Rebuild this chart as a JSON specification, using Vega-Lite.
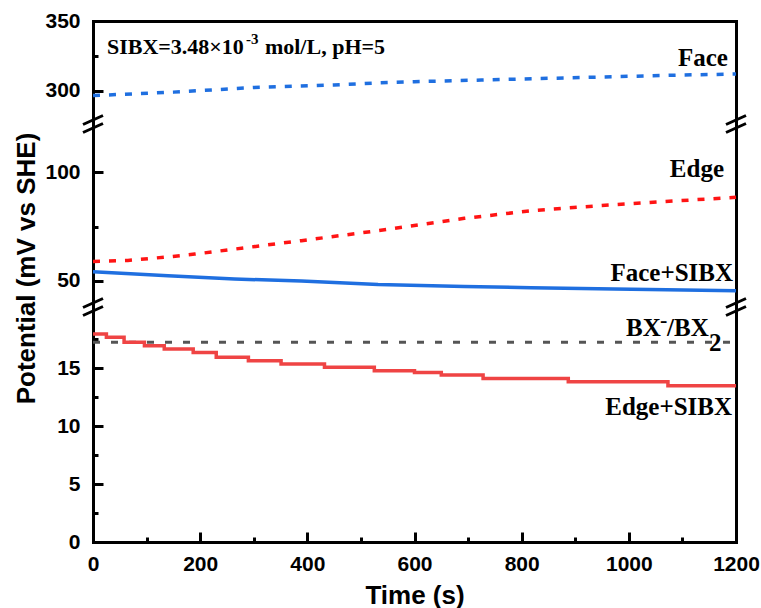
{
  "$schema": "https://vega.github.io/schema/vega-lite/v6.json",
  "background": "white",
  "padding": {"left": 13, "top": 10, "right": 2, "bottom": 2},
  "spacing": 0,
  "bounds": "flush",
  "datasets": {
    "face": [
      {"t": 0, "v": 296.4}, {"t": 150, "v": 298.9}, {"t": 300, "v": 302.2}, {"t": 450, "v": 304.1},
      {"t": 530, "v": 305.5}, {"t": 600, "v": 306.4}, {"t": 725, "v": 307.6}, {"t": 850, "v": 308.8},
      {"t": 975, "v": 310.0}, {"t": 1100, "v": 311.2}, {"t": 1200, "v": 311.9}
    ],
    "edge": [
      {"t": 0, "v": 58.9}, {"t": 65, "v": 59.4}, {"t": 140, "v": 61.0}, {"t": 190, "v": 62.3},
      {"t": 264, "v": 64.6}, {"t": 389, "v": 68.5}, {"t": 532, "v": 73.1}, {"t": 693, "v": 78.8},
      {"t": 818, "v": 82.3}, {"t": 943, "v": 84.6}, {"t": 1066, "v": 86.5}, {"t": 1200, "v": 88.5}
    ],
    "faceSibx": [
      {"t": 0, "v": 54.2}, {"t": 140, "v": 52.3}, {"t": 264, "v": 50.8}, {"t": 389, "v": 49.9},
      {"t": 532, "v": 48.3}, {"t": 693, "v": 47.4}, {"t": 818, "v": 46.8}, {"t": 973, "v": 46.2},
      {"t": 1200, "v": 45.4}
    ],
    "edgeSibx": [
      {"t": 0, "v": 17.97}, {"t": 25, "v": 17.68}, {"t": 58, "v": 17.25}, {"t": 96, "v": 16.96},
      {"t": 133, "v": 16.67}, {"t": 187, "v": 16.38}, {"t": 230, "v": 15.95}, {"t": 290, "v": 15.66},
      {"t": 351, "v": 15.37}, {"t": 432, "v": 15.09}, {"t": 525, "v": 14.79}, {"t": 600, "v": 14.65},
      {"t": 650, "v": 14.42}, {"t": 728, "v": 14.13}, {"t": 887, "v": 13.84}, {"t": 1073, "v": 13.49},
      {"t": 1200, "v": 13.49}
    ],
    "bx": [{"t": 0, "v": 17.25}, {"t": 1200, "v": 17.25}],
    "one": [{}]
  },
  "config": {
    "view": {"stroke": null},
    "axis": {
      "grid": false, "domainColor": "black", "domainWidth": 3, "domainCap": "square",
      "tickColor": "black", "tickWidth": 3,
      "labelFont": "Liberation Sans", "labelFontWeight": "bold", "labelFontSize": 21, "labelColor": "black",
      "titleFont": "Liberation Sans", "titleFontWeight": "bold", "titleFontSize": 26, "titleColor": "black",
      "labelFlush": false, "format": "d"
    },
    "text": {"font": "Liberation Serif", "fontWeight": "bold", "fontSize": 24, "color": "black"}
  },
  "vconcat": [
    {
      "width": 643, "height": 103,
      "resolve": {"axis": {"x": "independent", "y": "independent"}},
      "layer": [
        {
          "data": {"name": "face"},
          "mark": {"type": "line", "color": "#1f6fe0", "strokeWidth": 3.5, "strokeDash": [7, 9]},
          "encoding": {
            "x": {"field": "t", "type": "quantitative", "scale": {"domain": [0, 1200], "nice": false},
                  "axis": {"orient": "top", "ticks": false, "labels": false, "title": null}},
            "y": {"field": "v", "type": "quantitative", "scale": {"domain": [276, 350], "nice": false, "zero": false},
                  "axis": {"orient": "left", "values": [300, 350], "tickSize": -10, "labelPadding": 23, "title": null}}
          }
        },
        {
          "data": {"name": "face"},
          "mark": {"type": "line", "opacity": 0},
          "encoding": {
            "x": {"field": "t", "type": "quantitative", "axis": null},
            "y": {"field": "v", "type": "quantitative",
                  "axis": {"orient": "left", "values": [325], "tickSize": -5, "labels": false, "domain": false, "title": null}}
          }
        },
        {
          "data": {"name": "face"},
          "mark": {"type": "line", "opacity": 0},
          "encoding": {
            "x": {"field": "t", "type": "quantitative", "axis": null},
            "y": {"field": "v", "type": "quantitative",
                  "axis": {"orient": "right", "ticks": false, "labels": false, "title": null}}
          }
        },
        {
          "data": {"name": "one"},
          "mark": {"type": "point", "shape": "M-1,0.05L1,-0.85M-1,0.85L1,-0.05", "filled": false, "stroke": "black", "strokeWidth": 3, "size": 400, "opacity": 1},
          "encoding": {"x": {"datum": 0, "type": "quantitative", "axis": null}, "y": {"datum": 276, "type": "quantitative", "axis": null}}
        },
        {
          "data": {"name": "one"},
          "mark": {"type": "point", "shape": "M-1,0.05L1,-0.85M-1,0.85L1,-0.05", "filled": false, "stroke": "black", "strokeWidth": 3, "size": 400, "opacity": 1},
          "encoding": {"x": {"datum": 1200, "type": "quantitative", "axis": null}, "y": {"datum": 276, "type": "quantitative", "axis": null}}
        },
        {
          "data": {"name": "one"},
          "mark": {"type": "text", "text": "Face", "align": "right", "baseline": "alphabetic", "fontSize": 25},
          "encoding": {"x": {"datum": 1185, "type": "quantitative", "axis": null}, "y": {"datum": 317.9, "type": "quantitative", "axis": null}}
        },
        {
          "data": {"name": "one"},
          "mark": {"type": "text", "text": "SIBX=3.48×10", "align": "left", "baseline": "alphabetic", "fontSize": 22},
          "encoding": {"x": {"datum": 26, "type": "quantitative", "axis": null}, "y": {"datum": 326.2, "type": "quantitative", "axis": null}}
        },
        {
          "data": {"name": "one"},
          "mark": {"type": "text", "text": "-3", "align": "left", "baseline": "alphabetic", "fontSize": 15, "dx": 139, "dy": -10},
          "encoding": {"x": {"datum": 26, "type": "quantitative", "axis": null}, "y": {"datum": 326.2, "type": "quantitative", "axis": null}}
        },
        {
          "data": {"name": "one"},
          "mark": {"type": "text", "text": "mol/L, pH=5", "align": "left", "baseline": "alphabetic", "fontSize": 22, "dx": 158},
          "encoding": {"x": {"datum": 26, "type": "quantitative", "axis": null}, "y": {"datum": 326.2, "type": "quantitative", "axis": null}}
        }
      ]
    },
    {
      "width": 643, "height": 183,
      "resolve": {"axis": {"x": "independent", "y": "independent"}},
      "layer": [
        {
          "data": {"name": "edge"},
          "mark": {"type": "line", "color": "#ff1414", "strokeWidth": 3.5, "strokeDash": [7, 9]},
          "encoding": {
            "x": {"field": "t", "type": "quantitative", "scale": {"domain": [0, 1200], "nice": false}, "axis": null},
            "y": {"field": "v", "type": "quantitative", "scale": {"domain": [37.9, 122.3], "nice": false, "zero": false},
                  "axis": {"orient": "left", "values": [50, 100], "tickSize": -10, "labelPadding": 23,
                           "title": "Potential (mV vs SHE)", "titleX": -58.7, "titleY": 144, "titleAngle": 270,
                           "titleBaseline": "alphabetic", "titleAlign": "center"}}
          }
        },
        {
          "data": {"name": "faceSibx"},
          "mark": {"type": "line", "color": "#1f6fe0", "strokeWidth": 3.5},
          "encoding": {
            "x": {"field": "t", "type": "quantitative", "axis": null},
            "y": {"field": "v", "type": "quantitative",
                  "axis": {"orient": "left", "values": [75], "tickSize": -5, "labels": false, "domain": false, "title": null}}
          }
        },
        {
          "data": {"name": "faceSibx"},
          "mark": {"type": "line", "opacity": 0},
          "encoding": {
            "x": {"field": "t", "type": "quantitative", "axis": null},
            "y": {"field": "v", "type": "quantitative",
                  "axis": {"orient": "right", "ticks": false, "labels": false, "title": null}}
          }
        },
        {
          "data": {"name": "one"},
          "mark": {"type": "point", "shape": "M-1,0.05L1,-0.85M-1,0.85L1,-0.05", "filled": false, "stroke": "black", "strokeWidth": 3, "size": 400, "opacity": 1},
          "encoding": {"x": {"datum": 0, "type": "quantitative", "axis": null}, "y": {"datum": 37.9, "type": "quantitative", "axis": null}}
        },
        {
          "data": {"name": "one"},
          "mark": {"type": "point", "shape": "M-1,0.05L1,-0.85M-1,0.85L1,-0.05", "filled": false, "stroke": "black", "strokeWidth": 3, "size": 400, "opacity": 1},
          "encoding": {"x": {"datum": 1200, "type": "quantitative", "axis": null}, "y": {"datum": 37.9, "type": "quantitative", "axis": null}}
        },
        {
          "data": {"name": "one"},
          "mark": {"type": "text", "text": "Edge", "align": "right", "baseline": "alphabetic", "fontSize": 25},
          "encoding": {"x": {"datum": 1177.6, "type": "quantitative", "axis": null}, "y": {"datum": 97.7, "type": "quantitative", "axis": null}}
        },
        {
          "data": {"name": "one"},
          "mark": {"type": "text", "text": "Face+SIBX", "align": "right", "baseline": "alphabetic", "fontSize": 25},
          "encoding": {"x": {"datum": 1194.5, "type": "quantitative", "axis": null}, "y": {"datum": 50.0, "type": "quantitative", "axis": null}}
        }
      ]
    },
    {
      "width": 643, "height": 235,
      "resolve": {"axis": {"x": "independent", "y": "independent"}},
      "layer": [
        {
          "data": {"name": "bx"},
          "mark": {"type": "line", "color": "#555555", "strokeWidth": 3, "strokeDash": [7, 11]},
          "encoding": {
            "x": {"field": "t", "type": "quantitative", "scale": {"domain": [0, 1200], "nice": false},
                  "axis": {"orient": "bottom", "values": [100, 300, 500, 700, 900, 1100], "tickSize": -5, "labels": false, "domain": false, "title": null}},
            "y": {"field": "v", "type": "quantitative", "scale": {"domain": [0, 20.3], "nice": false, "zero": false},
                  "axis": {"orient": "left", "values": [2.5, 7.5, 12.5, 17.5], "tickSize": -5, "labels": false, "domain": false, "title": null}}
          }
        },
        {
          "data": {"name": "edgeSibx"},
          "mark": {"type": "line", "color": "#ef4444", "strokeWidth": 3.5, "interpolate": "step-after"},
          "encoding": {
            "x": {"field": "t", "type": "quantitative",
                  "axis": {"orient": "bottom", "values": [0, 200, 400, 600, 800, 1000, 1200], "tickSize": -10, "labelPadding": 21,
                           "title": "Time (s)", "titleY": 61, "titleBaseline": "alphabetic"}},
            "y": {"field": "v", "type": "quantitative",
                  "axis": {"orient": "left", "values": [0, 5, 10, 15], "tickSize": -10, "labelPadding": 23, "title": null}}
          }
        },
        {
          "data": {"name": "bx"},
          "mark": {"type": "line", "opacity": 0},
          "encoding": {
            "x": {"field": "t", "type": "quantitative", "axis": null},
            "y": {"field": "v", "type": "quantitative",
                  "axis": {"orient": "right", "ticks": false, "labels": false, "title": null}}
          }
        },
        {
          "data": {"name": "one"},
          "mark": {"type": "text", "text": "Edge+SIBX", "align": "right", "baseline": "alphabetic", "fontSize": 25},
          "encoding": {"x": {"datum": 1192.6, "type": "quantitative", "axis": null}, "y": {"datum": 10.96, "type": "quantitative", "axis": null}}
        },
        {
          "data": {"name": "one"},
          "mark": {"type": "text", "text": "BX", "align": "left", "baseline": "alphabetic", "fontSize": 25},
          "encoding": {"x": {"datum": 994.8, "type": "quantitative", "axis": null}, "y": {"datum": 17.82, "type": "quantitative", "axis": null}}
        },
        {
          "data": {"name": "one"},
          "mark": {"type": "text", "text": "-", "align": "left", "baseline": "alphabetic", "fontSize": 22, "dx": 34, "dy": -9},
          "encoding": {"x": {"datum": 994.8, "type": "quantitative", "axis": null}, "y": {"datum": 17.82, "type": "quantitative", "axis": null}}
        },
        {
          "data": {"name": "one"},
          "mark": {"type": "text", "text": "/BX", "align": "left", "baseline": "alphabetic", "fontSize": 25, "dx": 41},
          "encoding": {"x": {"datum": 994.8, "type": "quantitative", "axis": null}, "y": {"datum": 17.82, "type": "quantitative", "axis": null}}
        },
        {
          "data": {"name": "one"},
          "mark": {"type": "text", "text": "2", "align": "left", "baseline": "alphabetic", "fontSize": 25, "dx": 83, "dy": 15},
          "encoding": {"x": {"datum": 994.8, "type": "quantitative", "axis": null}, "y": {"datum": 17.82, "type": "quantitative", "axis": null}}
        }
      ]
    }
  ]
}
